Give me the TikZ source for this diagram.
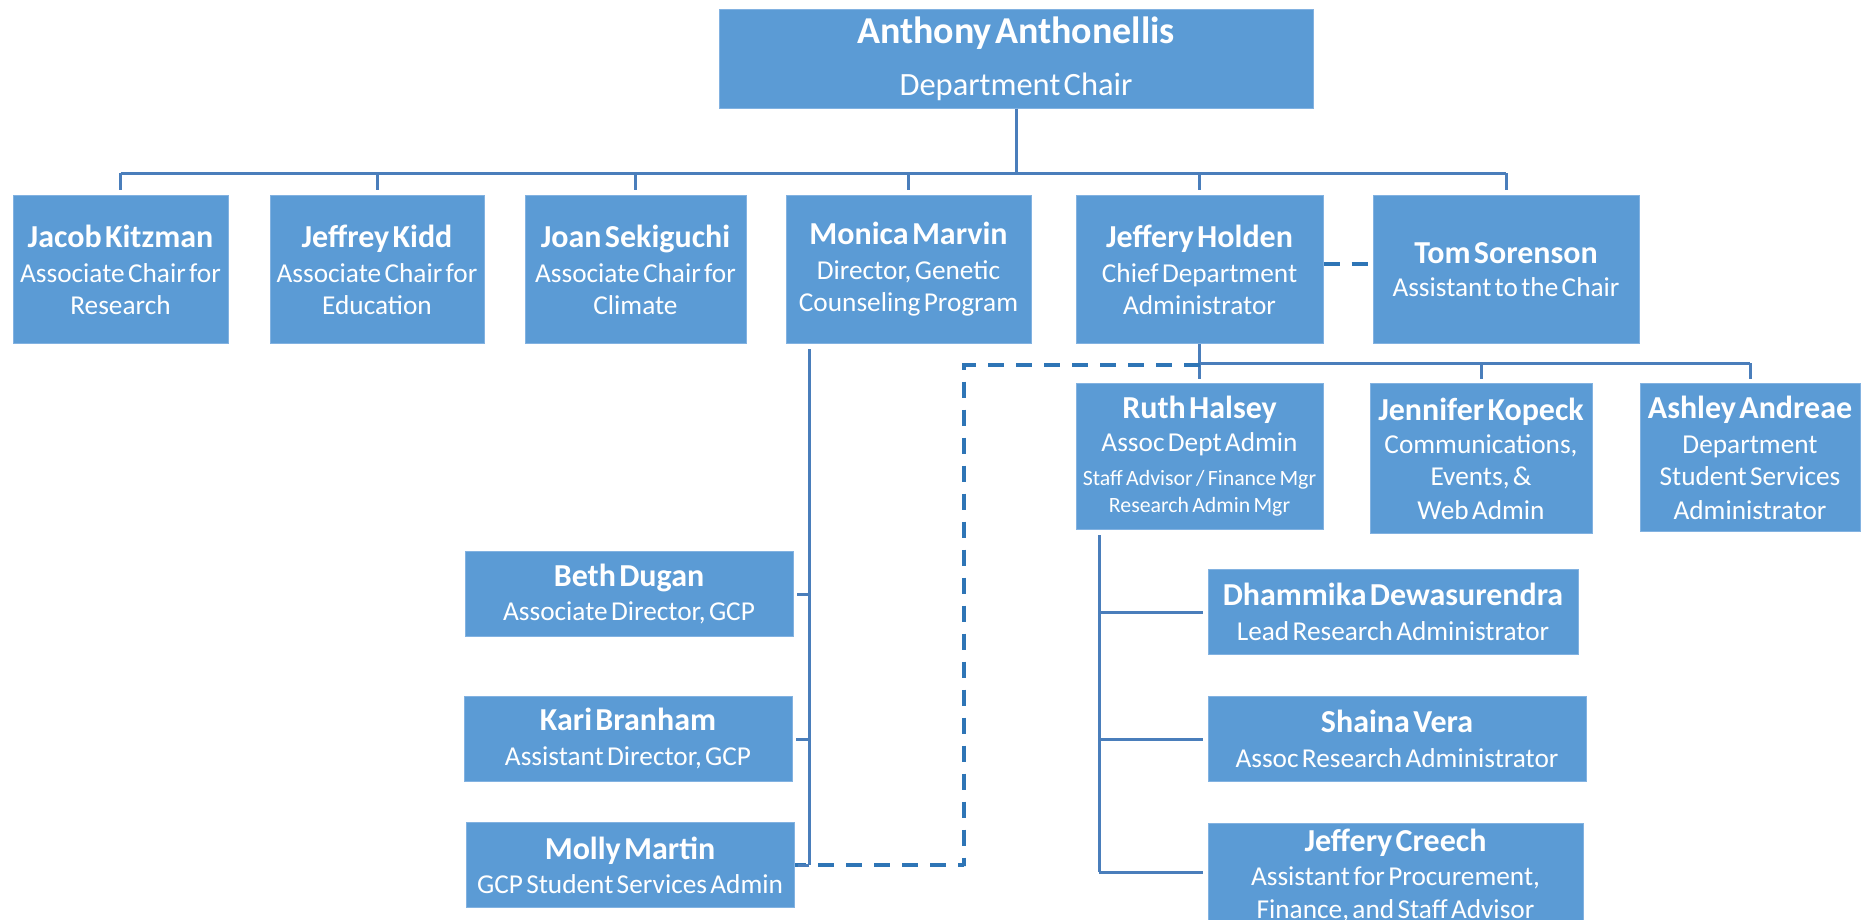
\documentclass[tikz,border=0pt]{standalone}
\usepackage{fontspec}
\setmainfont{Carlito}
\definecolor{boxfill}{RGB}{91,155,213}
\definecolor{boxline}{RGB}{130,178,225}
\definecolor{conncol}{RGB}{74,126,187}
\definecolor{dashcol}{RGB}{46,117,182}
\newcommand{\nmline}[1]{{\fontsize{32}{34}\bfseries #1\par}}
\newcommand{\sbline}[2][34]{{\fontsize{27.3}{#1}\selectfont #2\par}}
\newcommand{\smline}[2][27]{{\fontsize{21.8}{#1}\selectfont #2\par}}
\tikzset{
  orgbox/.style={fill=boxfill, draw=boxline, line width=1pt, text=white,
    align=center, inner xsep=0pt, inner ysep=0pt, text width=#1},
  conn/.style={draw=conncol, line width=3pt},
  dsh/.style={draw=dashcol, line width=4pt, dash pattern=on 16pt off 12pt},
}
\begin{document}
\begin{tikzpicture}[x=1pt,y=-1pt]
\useasboundingbox (0,0) rectangle (1870,919);
\clip (0,0) rectangle (1870,919);
% top
\node[orgbox=594pt, minimum height=99pt] (anthony) at (1016,58.5)
  {{\fontsize{38}{40}\bfseries Anthony Anthonellis\par}{\fontsize{32.5}{52}\selectfont Department Chair\par}};
% row 1
\node[orgbox=215pt, minimum height=148pt] (jacob) at (120.5,269.5)
  {\nmline{Jacob Kitzman}\sbline[35]{Associate Chair for}\sbline[32]{Research}};
\node[orgbox=214pt, minimum height=148pt] (kidd) at (377,269.5)
  {\nmline{Jeffrey Kidd}\sbline[35]{Associate Chair for}\sbline[32]{Education}};
\node[orgbox=221pt, minimum height=148pt] (joan) at (635.5,269.5)
  {\nmline{Joan Sekiguchi}\sbline[35]{Associate Chair for}\sbline[32]{Climate}};
\node[orgbox=245pt, minimum height=148pt] (monica) at (908.5,269.5)
  {\nmline{Monica Marvin}\sbline[35]{Director, Genetic}\sbline[32]{Counseling Program}};
\node[orgbox=247pt, minimum height=148pt] (holden) at (1199.5,269.5)
  {\nmline{Jeffery Holden}\sbline[35]{Chief Department}\sbline[32]{Administrator}};
\node[orgbox=266pt, minimum height=148pt] (tom) at (1506,269.5)
  {\nmline{Tom Sorenson}\sbline[33]{Assistant to the Chair}};
% row 2
\node[orgbox=247pt, minimum height=146pt] (ruth) at (1199.5,456.5)
  {\nmline{Ruth Halsey}\sbline[33]{Assoc Dept Admin}\smline[34]{Staff Advisor / Finance Mgr}\smline[27]{Research Admin Mgr}};
\node[orgbox=222pt, minimum height=150pt] (jennifer) at (1481,458.5)
  {\nmline{Jennifer Kopeck}\sbline[33]{Communications,}\sbline[32]{Events, \&}\sbline[34]{Web Admin}};
\node[orgbox=220pt, minimum height=148pt] (ashley) at (1750,457.5)
  {\nmline{Ashley Andreae}\sbline[35]{Department}\sbline[32]{Student Services}\sbline[34]{Administrator}};
% GCP column
\node[orgbox=328pt, minimum height=85pt] (beth) at (629,594)
  {\nmline{Beth Dugan}\sbline[34]{Associate Director, GCP}};
\node[orgbox=328pt, minimum height=85pt] (kari) at (628,739)
  {\nmline{Kari Branham}\sbline[35]{Assistant Director, GCP}};
\node[orgbox=328pt, minimum height=85pt] (molly) at (630,865)
  {\nmline{Molly Martin}\sbline[34]{GCP Student Services Admin}};
% research admin column
\node[orgbox=370pt, minimum height=85pt] (dham) at (1393,612)
  {\nmline{Dhammika Dewasurendra}\sbline[35]{Lead Research Administrator}};
\node[orgbox=378pt, minimum height=85pt] (shaina) at (1397,739)
  {\nmline{Shaina Vera}\sbline[35]{Assoc Research Administrator}};
\node[orgbox=375pt, anchor=north, inner ysep=5pt] (creech) at (1395.5,823)
  {\nmline{Jeffery Creech}\sbline[35]{Assistant for Procurement,}\sbline[32]{Finance, and Staff Advisor\rule[-60pt]{0pt}{0pt}}};
% coordinates
\coordinate (busA) at (0,173);
\coordinate (busB) at (0,363);
\coordinate (mline) at (809,0);
\coordinate (rbot) at (1099,872);
\coordinate (dcorner) at (964,866);
% connectors level 1
\draw[conn] (anthony.south) -- (anthony.south |- busA);
\draw[conn] (jacob.north |- busA) -- (tom.north |- busA);
\foreach \n in {jacob,kidd,joan,monica,holden,tom}
  \draw[conn] (\n.north |- busA) -- ([yshift=5pt]\n.north);
\draw[dsh] ([yshift=6pt]holden.east) -- ([yshift=6pt]tom.west);
% Holden's reports
\draw[conn] (holden.south) -- (holden.south |- busB);
\draw[conn] (holden.south |- busB) -- (ashley.north |- busB);
\foreach \n in {ruth,jennifer,ashley}
  \draw[conn] (\n.north |- busB) -- ([yshift=4pt]\n.north);
\draw[dsh] ([yshift=-2pt]holden.south |- busB) -| (dcorner) |- (molly.east);
% Monica's reports
\draw[conn] ([yshift=-5pt]monica.south -| mline) -- (mline |- molly.east);
\foreach \n in {beth,kari,molly}
  \draw[conn] (mline |- \n.east) -- ([xshift=3pt]\n.east);
% Ruth's reports
\draw[conn] ([yshift=-5pt]ruth.south -| rbot) -- (rbot);
\draw[conn] (rbot |- dham.west) -- ([xshift=-5pt]dham.west);
\draw[conn] (rbot |- shaina.west) -- ([xshift=-5pt]shaina.west);
\draw[conn] (rbot) -- ([xshift=-5pt]rbot -| creech.west);
\end{tikzpicture}
\end{document}
